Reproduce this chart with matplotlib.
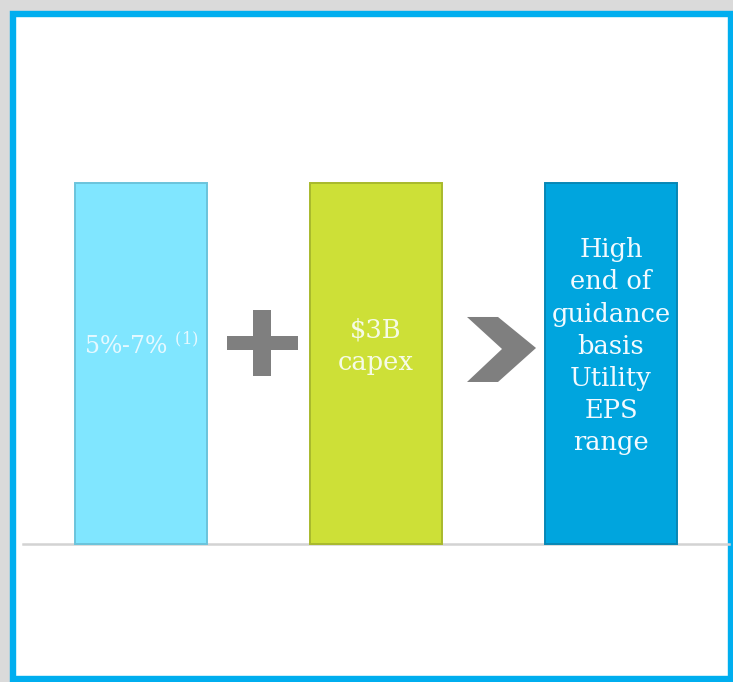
import matplotlib.pyplot as plt
from matplotlib.patches import Polygon, Rectangle
from matplotlib.transforms import ScaledTranslation

plt.rcParams['font.family'] = ['DejaVu Serif']
plt.rcParams['mathtext.fontset'] = 'dejavuserif'

# data
labels = ['5%-7% $^{(1)}$', '$3B\ncapex'.replace('$', r'\$'),
          'High\nend of\nguidance\nbasis\nUtility\nEPS\nrange']
heights = [1, 1, 1]
positions = [0, 1, 2]
colors = ['#80E6FF', '#CDE037', '#00A5DE']
edges = ['#6BC4DC', '#A8B92C', '#0787B5']
text_colors = ['#E6F9FF', '#F6FBE6', '#F2FAFF']
text_sizes = [17, 18.5, 18.5]

fig = plt.figure(figsize=(7.33, 6.82), dpi=100, facecolor='#DADADA')

# frame: white panel with blue border
fig.patches.append(Rectangle((13.5 / 733, 3 / 682), (730.5 - 13.5) / 733, (668.5 - 3) / 682,
                             transform=fig.transFigure, facecolor='white',
                             edgecolor='#00AEEF', linewidth=4.6, zorder=-5))

ax = fig.add_axes([0, 0, 1, 1])
ax.set_xlim(-0.6, 2.519)
ax.set_ylim(-0.382, 1.507)
ax.axis('off')

# baseline
ax.plot([-0.502, 2.502], [0, 0], color='#D3D3D3', lw=1.8, zorder=1)

ax.bar(positions, heights, width=0.562, color=colors, edgecolor=edges,
       linewidth=1.4, zorder=2)

for x, h, lab, tc, fs in zip(positions, heights, labels, text_colors, text_sizes):
    ax.text(x, h * 0.548, lab, ha='center', va='center', fontsize=fs,
            color=tc, linespacing=1.36, zorder=3)

# operators between bars (shapes in inches around a data point)
def at(cx, cy):
    return fig.dpi_scale_trans + ScaledTranslation(cx, cy, ax.transData)

plus = at(0.515, 0.557)
ax.add_patch(Rectangle((-0.355, -0.07), 0.71, 0.14, transform=plus,
                       facecolor='#7F7F7F', edgecolor='none', zorder=3))
ax.add_patch(Rectangle((-0.09, -0.33), 0.18, 0.66, transform=plus,
                       facecolor='#7F7F7F', edgecolor='none', zorder=3))

chev = [(-0.345, 0.325), (-0.035, 0.325), (0.345, 0.015),
        (-0.035, -0.325), (-0.345, -0.325), (0.005, 0.005)]
ax.add_patch(Polygon(chev, closed=True, transform=at(1.534, 0.539),
                     facecolor='#7F7F7F', edgecolor='none', zorder=3))

fig.savefig('out.png', dpi=100, facecolor=fig.get_facecolor())
